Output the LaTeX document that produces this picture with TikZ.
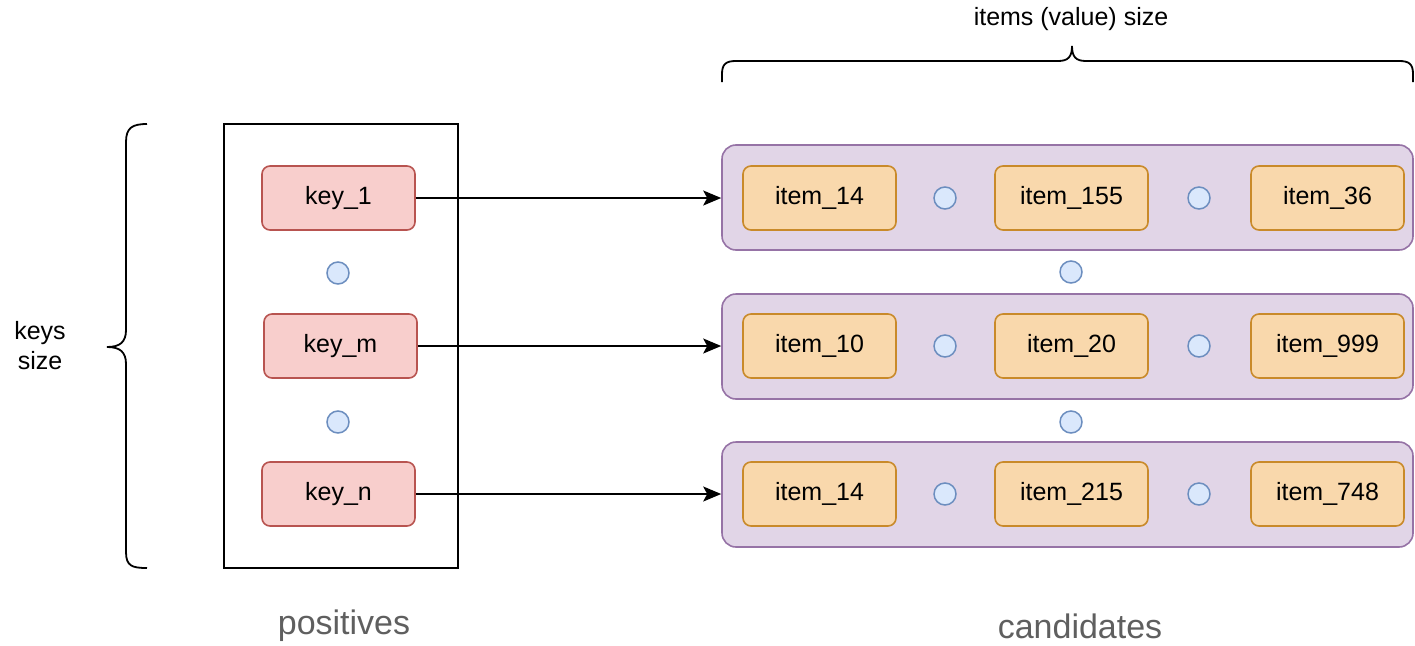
\documentclass[tikz,border=0pt]{standalone}
\usepackage{fontspec}
\setmainfont{Liberation Sans}
\usetikzlibrary{arrows.meta}
\definecolor{keyfill}{HTML}{F8CECC}
\definecolor{keyline}{HTML}{B85450}
\definecolor{itemfill}{HTML}{F9D8AC}
\definecolor{itemline}{HTML}{C98A2A}
\definecolor{rowfill}{HTML}{E1D5E7}
\definecolor{rowline}{HTML}{9673A6}
\definecolor{dotfill}{HTML}{DAE8FC}
\definecolor{dotline}{HTML}{6C8EBF}
\definecolor{captiongray}{HTML}{5F5F5F}
\tikzset{
  keybox/.style={draw=keyline, fill=keyfill, line width=1.6pt, rounded corners=8pt,
    minimum width=153pt, minimum height=64pt, font=\fontsize{25}{30}\selectfont},
  itembox/.style={draw=itemline, fill=itemfill, line width=1.6pt, rounded corners=8pt,
    minimum width=153pt, minimum height=64pt, font=\fontsize{25}{30}\selectfont},
  rowbox/.style={draw=rowline, fill=rowfill, line width=1.6pt, rounded corners=14pt,
    minimum width=691pt, minimum height=105pt},
  dot/.style={circle, draw=dotline, fill=dotfill, line width=1.5pt, minimum size=22pt, inner sep=0pt},
  link/.style={line width=1.8pt, -{Stealth[length=18pt, width=15pt, inset=4pt]}},
  brace/.style={line width=1.8pt},
  caption/.style={text=captiongray, font=\fontsize{34}{40}\selectfont},
  plain/.style={font=\fontsize{25}{30}\selectfont, align=center}
}
\begin{document}
\begin{tikzpicture}[x=1pt, y=-1pt]
\useasboundingbox (0,0) rectangle (1415,645);

% positives frame
\node[draw, line width=1.8pt, minimum width=234pt, minimum height=444pt, inner sep=0pt] (pos) at (341,346) {};

% keys
\node[keybox] (k1) at (338.5,198) {key\_1};
\node[dot] (kd1) at (338,273) {};
\node[keybox] (km) at (340.5,346) {key\_m};
\node[dot] (kd2) at (338,422) {};
\node[keybox] (kn) at (338.5,494) {key\_n};

% candidate rows
\node[rowbox] (r1) at (1067.5,197.5) {};
\node[rowbox] (r2) at (1067.5,346.5) {};
\node[rowbox] (r3) at (1067.5,494.5) {};
\node[dot] (rd1) at (1071,272) {};
\node[dot] (rd2) at (1071,422) {};

% row 1
\node[itembox] (a1) at (819.5,198) {item\_14};
\node[dot] (ad1) at (945,198) {};
\node[itembox] (a2) at (1071.5,198) {item\_155};
\node[dot] (ad2) at (1199,198) {};
\node[itembox] (a3) at (1327.5,198) {item\_36};
% row 2
\node[itembox] (b1) at (819.5,346) {item\_10};
\node[dot] (bd1) at (945,346) {};
\node[itembox] (b2) at (1071.5,346) {item\_20};
\node[dot] (bd2) at (1199,346) {};
\node[itembox] (b3) at (1327.5,346) {item\_999};
% row 3
\node[itembox] (c1) at (819.5,494) {item\_14};
\node[dot] (cd1) at (945,494) {};
\node[itembox] (c2) at (1071.5,494) {item\_215};
\node[dot] (cd2) at (1199,494) {};
\node[itembox] (c3) at (1327.5,494) {item\_748};

% key -> candidate rows
\draw[link] (k1.east) -- (k1.east -| r1.west);
\draw[link] (km.east) -- (km.east -| r2.west);
\draw[link] (kn.east) -- (kn.east -| r3.west);

% braces
\draw[brace] (722,82) -- (722,74) .. controls (722,64) and (726,61) .. (736,61)
  -- (1058,61) .. controls (1068,61) and (1072,57) .. (1072,46)
  .. controls (1072,57) and (1076,61) .. (1086,61)
  -- (1399,61) .. controls (1409,61) and (1413,64) .. (1413,74) -- (1413,82);
\draw[brace] (147,124) .. controls (132,124) and (126,128) .. (126,142)
  -- (126,330) .. controls (126,342) and (120,347) .. (107,347)
  .. controls (120,347) and (126,352) .. (126,364)
  -- (126,552) .. controls (126,566) and (132,568) .. (147,568);

% labels
\node[plain] (tl) at (1071,19) {items (value) size};
\node[plain] (kl) at (40,346) {keys\\size};
\node[caption] (pl) at (344,626) {positives};
\node[caption] (cl) at (1080,626) {candidates};
\end{tikzpicture}
\end{document}
